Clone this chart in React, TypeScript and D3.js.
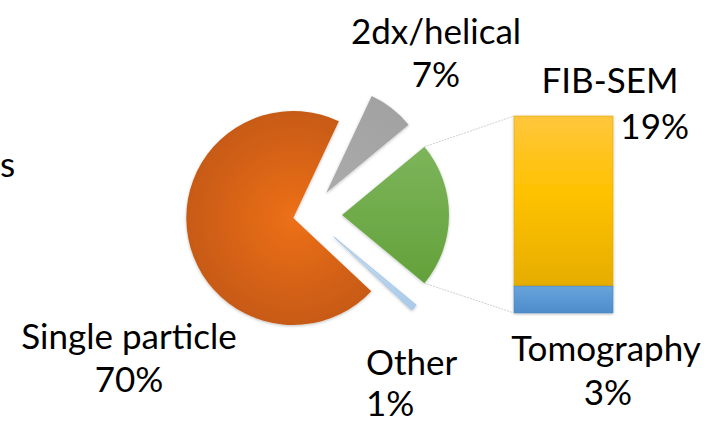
import React, { useRef, useEffect } from 'react';
import * as d3 from 'd3';

// pie slices, clockwise starting from the small grey one
const pieLabels = ['2dx/helical', 'Other (combined)', 'Other', 'Single particle'];
const pieValues = [7, 22, 1, 70];
// the combined slice is broken out into the bar
const barLabels = ['FIB-SEM', 'Tomography'];
const barValues = [19, 3];

const W = 710;
const H = 425;
const FONT = 'Lato, "Open Sans", sans-serif';

const App: React.FC = () => {
  const ref = useRef<SVGSVGElement | null>(null);

  useEffect(() => {
    if (!ref.current) return;
    const svg = d3.select(ref.current);
    svg.selectAll('*').remove();

    const cx = 309;
    const cy = 215;
    const r = 107;
    const explode = [28, 33, 33, 16];

    const total = d3.sum(pieValues);
    // put the combined slice centred on the right, facing the bar
    const start = Math.PI / 2 - ((pieValues[1] / 2 + pieValues[0]) / total) * 2 * Math.PI;
    const pie = d3.pie<number>().sort(null).value(d => d).startAngle(start).endAngle(start + 2 * Math.PI);
    const arcs = pie(pieValues);
    const arc = d3.arc<d3.PieArcDatum<number>>().innerRadius(0).outerRadius(r);

    const defs = svg.append('defs');
    defs.append('filter').attr('id', 'shadow')
      .append('feDropShadow')
      .attr('dx', 0).attr('dy', 1).attr('stdDeviation', 1.5).attr('flood-opacity', 0.25);

    const radial = (id: string, inner: string, outer: string) => {
      const g = defs.append('radialGradient').attr('id', id)
        .attr('gradientUnits', 'userSpaceOnUse')
        .attr('cx', 0).attr('cy', 0).attr('r', r);
      g.append('stop').attr('offset', '0%').attr('stop-color', inner);
      g.append('stop').attr('offset', '100%').attr('stop-color', outer);
    };
    const linear = (id: string, stops: [string, string][]) => {
      const g = defs.append('linearGradient').attr('id', id)
        .attr('x1', 0).attr('x2', 0).attr('y1', 0).attr('y2', 1);
      stops.forEach(([o, c]) => g.append('stop').attr('offset', o).attr('stop-color', c));
    };
    radial('gOrange', '#ED701A', '#C75A12');
    radial('gGray', '#ABABAB', '#A2A2A2');
    linear('gGreen', [['0%', '#7DB55B'], ['100%', '#63A13A']]);
    radial('gBlue', '#C9DEF1', '#A9CBEA');
    linear('gYellow', [['0%', '#FFC63D'], ['45%', '#FFC200'], ['100%', '#E6AD00']]);
    linear('gBar2', [['0%', '#67A4DC'], ['100%', '#4D8CCB']]);

    const fills = ['url(#gGray)', 'url(#gGreen)', 'url(#gBlue)', 'url(#gOrange)'];
    const offsetOf = (a: d3.PieArcDatum<number>, i: number) => {
      const mid = (a.startAngle + a.endAngle) / 2;
      return [cx + Math.sin(mid) * explode[i], cy - Math.cos(mid) * explode[i]];
    };

    svg.append('g').selectAll('path')
      .data(arcs)
      .join('path')
      .attr('transform', (a, i) => {
        const [x, y] = offsetOf(a, i);
        return `translate(${x},${y})`;
      })
      .attr('d', arc)
      .attr('fill', (_, i) => fills[i])
      .attr('stroke', (_, i) => (i === 2 ? '#9DC3E6' : 'none'))
      .attr('stroke-width', 0.8)
      .attr('filter', 'url(#shadow)');

    // bar of the combined slice
    const bx0 = 514;
    const bx1 = 613;
    const by0 = 116;
    const by1 = 313;
    const y = d3.scaleLinear().domain([0, d3.sum(barValues)]).range([by1, by0]);
    const stack = d3.cumsum(barValues.slice().reverse()); // bottom-up
    const barFills = ['url(#gYellow)', 'url(#gBar2)'];
    const segs = barValues.map((v, i) => {
      // Tomography sits at the bottom
      const j = barValues.length - 1 - i;
      const top = stack[j];
      return { top, bottom: top - v, fill: barFills[i] };
    });
    svg.append('g').selectAll('rect')
      .data(segs)
      .join('rect')
      .attr('x', bx0)
      .attr('width', bx1 - bx0)
      .attr('y', d => y(d.top))
      .attr('height', d => y(d.bottom) - y(d.top))
      .attr('fill', d => d.fill)
      .attr('stroke', (_, i) => (i === 0 ? '#E0A800' : '#4A86C0'))
      .attr('stroke-width', 0.6)
      .attr('filter', 'url(#shadow)');

    // connector lines from the combined slice to the bar
    const g = arcs[1];
    const [gx, gy] = offsetOf(g, 1);
    const tipTop = [gx + Math.sin(g.startAngle) * r, gy - Math.cos(g.startAngle) * r];
    const tipBot = [gx + Math.sin(g.endAngle) * r, gy - Math.cos(g.endAngle) * r];
    [[tipTop, [bx0, by0]], [tipBot, [bx0, by1]]].forEach(([a, b]) => {
      svg.append('line')
        .attr('x1', a[0]).attr('y1', a[1]).attr('x2', b[0]).attr('y2', b[1])
        .attr('stroke', '#D0D0D0').attr('stroke-width', 1).attr('stroke-dasharray', '2,1');
    });

    const text = (x: number, yy: number, s: string, anchor = 'middle') =>
      svg.append('text')
        .attr('x', x).attr('y', yy)
        .attr('text-anchor', anchor)
        .attr('font-family', FONT)
        .attr('font-size', 35)
        .attr('fill', '#000')
        .text(s);

    text(436, 44, pieLabels[0]);
    text(436, 87, `${pieValues[0]}%`);
    text(610, 93, barLabels[0]);
    text(689, 139, `${barValues[0]}%`, 'end');
    text(129, 349, pieLabels[3]);
    text(129, 392, `${pieValues[3]}%`);
    text(366, 375, pieLabels[2], 'start');
    text(366, 416, `${pieValues[2]}%`, 'start');
    text(606, 361, barLabels[1]);
    text(608, 405, `${barValues[1]}%`);
    text(0, 177, 's', 'start');
  }, []);

  return (
    <svg ref={ref} width={W} height={H}
      style={{ position: 'absolute', left: 0, top: 0, background: '#fff' }} />
  );
};

export default App;
